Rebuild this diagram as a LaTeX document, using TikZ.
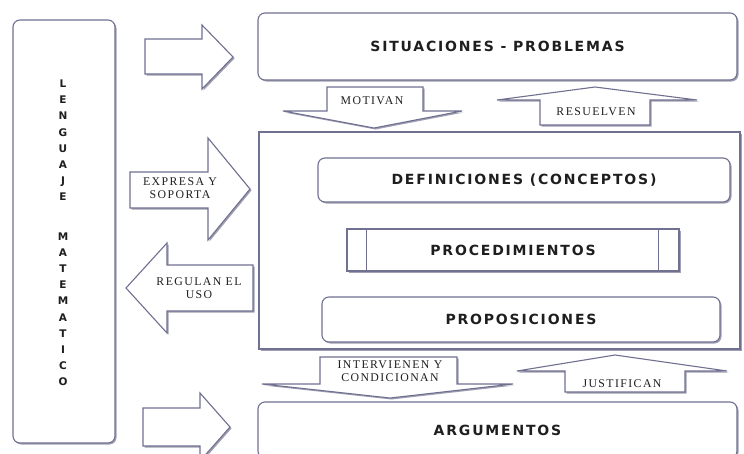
\documentclass[tikz,border=0pt]{standalone}
\usepackage{fontspec}
\usepackage{xcolor}
\definecolor{edgeblue}{RGB}{112,112,145}
\definecolor{shadowgray}{RGB}{160,160,178}
\definecolor{textgray}{RGB}{30,30,30}
\usepackage{tikz}
\usetikzlibrary{shadows}
\newfontfamily\boxfont[LetterSpace=13]{DejaVu Sans}
\newfontfamily\arrowfont[LetterSpace=12]{Liberation Serif}
\newfontfamily\letterfont{DejaVu Sans}
\tikzset{
    common/.style={draw=edgeblue, line width=1.1pt, fill=white,
        drop shadow={shadow xshift=1.5pt, shadow yshift=-1.5pt, fill=shadowgray, opacity=1}},
    boxsize/.style 2 args={minimum width=#1pt, minimum height=#2pt},
    roundbox/.style={common, rounded corners=7pt},
    squarebox/.style={common},
    boxlabel/.style={font=\boxfont\bfseries\fontsize{14}{16}\selectfont, text=textgray},
    blockarrow/.style={common, line join=miter},
    arrowlabel/.style={font=\arrowfont\fontsize{11.8}{12.5}\selectfont, text=textgray, align=center, inner sep=0pt},
    letters/.style={font=\letterfont\bfseries\fontsize{10.5}{16.2}\selectfont, text=textgray, align=center, inner sep=0pt}
}

\begin{document}
\begin{tikzpicture}[x=1pt, y=-1pt]
    \fill[white] (0,0) rectangle (744,453);
    \useasboundingbox (0,0) rectangle (744,453);

    % lenguaje matematico
    \node[roundbox, boxsize={102}{423}] (lang) at (64,231.5) {};
    \node[letters] (lang-text) at (63,233)
        {L\\E\\N\\G\\U\\A\\J\\E\\[23pt]M\\A\\T\\E\\M\\A\\T\\I\\C\\O};

    % right column
    \node[roundbox, boxlabel, boxsize={479}{67}] (sit) at (497.5,46.5) {SITUACIONES - PROBLEMAS};
    \node[squarebox, boxsize={481}{217}] (frame) at (499.5,240.5) {};
    \node[roundbox, boxlabel, boxsize={412}{44}] (def) at (524,180) {DEFINICIONES (CONCEPTOS)};
    \node[squarebox, boxlabel, boxsize={332}{42}] (proc) at (513,250) {PROCEDIMIENTOS};
    \draw[edgeblue, line width=1.1pt]
        ([xshift=20pt]proc.north west) -- ([xshift=20pt]proc.south west)
        ([xshift=-21pt]proc.north east) -- ([xshift=-21pt]proc.south east);
    \node[roundbox, boxlabel, boxsize={398}{45}] (prop) at (521,319.5) {PROPOSICIONES};
    \node[roundbox, boxlabel, boxsize={479}{56}] (arg) at (497.5,430) {ARGUMENTOS};

    % arrows from the left column
    \draw[blockarrow] (145,39) -- (202,39) -- (202,25) -- (233,57) -- (202,89) -- (202,74) -- (145,74) -- cycle;
    \draw[blockarrow] (130,172) -- (208,172) -- (208,138) -- (250,189) -- (208,240) -- (208,208) -- (130,208) -- cycle;
    \node[arrowlabel] (expresa) at (180,188) {EXPRESA Y\\SOPORTA};
    \draw[blockarrow] (253,265) -- (167,265) -- (167,243) -- (126,288) -- (167,333) -- (167,311) -- (253,311) -- cycle;
    \node[arrowlabel] (regulan) at (199,288) {REGULAN EL\\USO};
    \draw[blockarrow] (143,408) -- (200,408) -- (200,393) -- (230,427) -- (200,461) -- (200,446) -- (143,446) -- cycle;

    % arrows between the boxes
    \draw[blockarrow] (327,87) -- (423,87) -- (423,111) -- (462,111) -- (374,128) -- (283,111) -- (327,111) -- cycle;
    \node[arrowlabel] (motivan) at (372,101) {MOTIVAN};
    \draw[blockarrow] (540,125) -- (650,125) -- (650,100) -- (697,100) -- (595,87) -- (497,100) -- (540,100) -- cycle;
    \node[arrowlabel] (resuelven) at (596,112) {RESUELVEN};
    \draw[blockarrow] (320,357) -- (457,357) -- (457,384) -- (513,384) -- (390,398) -- (262,384) -- (320,384) -- cycle;
    \node[arrowlabel] (intervienen) at (390,371) {INTERVIENEN Y\\CONDICIONAN};
    \draw[blockarrow] (565,392) -- (685,392) -- (685,371) -- (727,371) -- (615,355) -- (517,371) -- (565,371) -- cycle;
    \node[arrowlabel] (justifican) at (622,384) {JUSTIFICAN};
\end{tikzpicture}
\end{document}
